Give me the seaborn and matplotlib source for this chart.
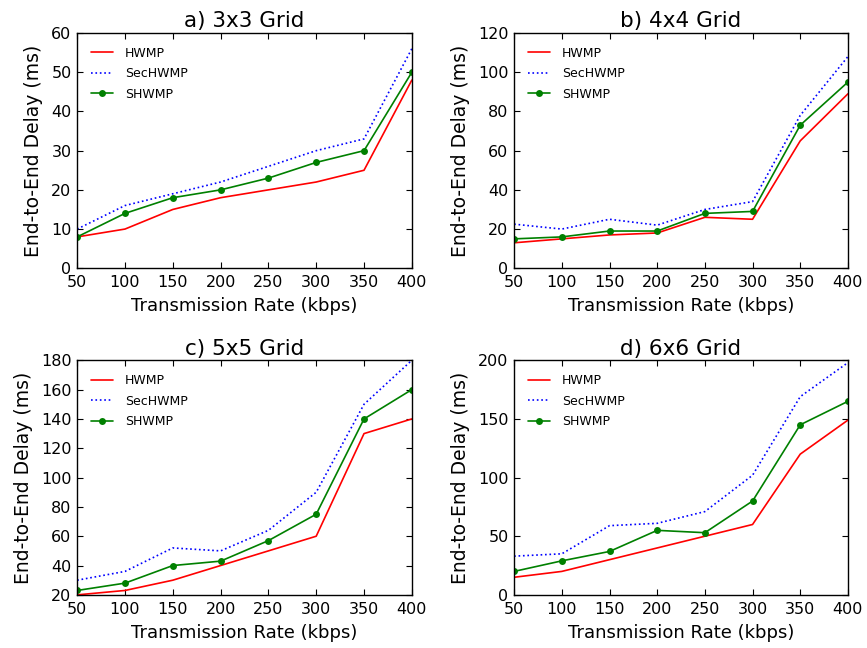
import numpy as np
import pandas as pd
import seaborn as sns
import matplotlib
matplotlib.use("Agg")
import matplotlib.pyplot as plt

# transmission rates shared by all panels
rates = [50, 100, 150, 200, 250, 300, 350, 400]
protocols = ["HWMP", "SecHWMP", "SHWMP"]
titles = ["a) 3x3 Grid", "b) 4x4 Grid", "c) 5x5 Grid", "d) 6x6 Grid"]

# end-to-end delay (ms)
hwmp_3x3 = [8, 10, 15, 18, 20, 22, 25, 48]
sechwmp_3x3 = [10, 16, 19, 22, 26, 30, 33, 56]
shwmp_3x3 = [8, 14, 18, 20, 23, 27, 30, 50]

hwmp_4x4 = [13, 15, 17, 18, 26, 25, 65, 89]
sechwmp_4x4 = [22.5, 20, 25, 22, 30, 34, 78, 108]
shwmp_4x4 = [15, 16, 19, 19, 28, 29, 73, 95]

hwmp_5x5 = [20, 23, 30, 40, 50, 60, 130, 140]
sechwmp_5x5 = [30, 36, 52, 50, 64, 90, 150, 180]
shwmp_5x5 = [23, 28, 40, 43, 57, 75, 140, 160]

hwmp_6x6 = [15, 20, 30, 40, 50, 60, 120, 149]
sechwmp_6x6 = [33, 35, 59, 61, 71, 102, 169, 198]
shwmp_6x6 = [20, 29, 37, 55, 53, 80, 145, 165]

y_limits = [(0, 60), (0, 120), (20, 180), (0, 200)]
y_steps = [10, 20, 20, 50]

panels = [
    (hwmp_3x3, sechwmp_3x3, shwmp_3x3),
    (hwmp_4x4, sechwmp_4x4, shwmp_4x4),
    (hwmp_5x5, sechwmp_5x5, shwmp_5x5),
    (hwmp_6x6, sechwmp_6x6, shwmp_6x6),
]

sns.set_style("ticks")
plt.rcParams["font.family"] = ["DejaVu Sans"]
plt.rcParams["xtick.direction"] = "in"
plt.rcParams["ytick.direction"] = "in"
plt.rcParams["xtick.top"] = True
plt.rcParams["ytick.right"] = True
plt.rcParams["xtick.major.size"] = 4
plt.rcParams["ytick.major.size"] = 4
plt.rcParams["axes.linewidth"] = 1.0
plt.rcParams["axes.edgecolor"] = "black"
plt.rcParams["text.color"] = "black"
plt.rcParams["axes.labelcolor"] = "black"
plt.rcParams["xtick.color"] = "black"
plt.rcParams["ytick.color"] = "black"

styles = {
    "HWMP": dict(color="#ff0000", linestyle="-", marker=None),
    "SecHWMP": dict(color="#0000ff", linestyle=":", marker=None),
    "SHWMP": dict(color="#008000", linestyle="-", marker="o"),
}

fig = plt.figure(figsize=(8.67, 6.48), dpi=100)
positions = [
    [0.089, 0.586, 0.386, 0.363],
    [0.593, 0.586, 0.385, 0.363],
    [0.089, 0.082, 0.386, 0.362],
    [0.593, 0.082, 0.385, 0.362],
]

for i, (vals, title) in enumerate(zip(panels, titles)):
    ax = fig.add_axes(positions[i])
    df = pd.DataFrame({
        "rate": rates * 3,
        "delay": list(vals[0]) + list(vals[1]) + list(vals[2]),
        "protocol": np.repeat(protocols, len(rates)),
    })
    for p in protocols:
        st = styles[p]
        sns.lineplot(data=df[df.protocol == p], x="rate", y="delay", ax=ax,
                     color=st["color"], linestyle=st["linestyle"],
                     marker=st["marker"], markersize=5, markeredgewidth=0,
                     linewidth=1.2, label=p)
    lo, hi = y_limits[i]
    ax.set_xlim(50, 400)
    ax.set_ylim(lo, hi)
    ax.set_xticks(rates)
    ax.set_yticks(np.arange(lo, hi + 1, y_steps[i]))
    ax.tick_params(labelsize=11.5)
    ax.tick_params(axis="x", pad=5)
    ax.tick_params(axis="y", pad=4)
    ax.set_xlabel("Transmission Rate (kbps)", fontsize=13, labelpad=5)
    ax.set_ylabel("End-to-End Delay (ms)", fontsize=13.5, labelpad=6)
    ax.set_title(title, fontsize=15.5, pad=4)
    ax.legend(loc="upper left", frameon=False, fontsize=9,
              handlelength=1.8, handletextpad=0.9, labelspacing=0.6,
              borderaxespad=0.7)

fig.savefig("out.png", dpi=100)
